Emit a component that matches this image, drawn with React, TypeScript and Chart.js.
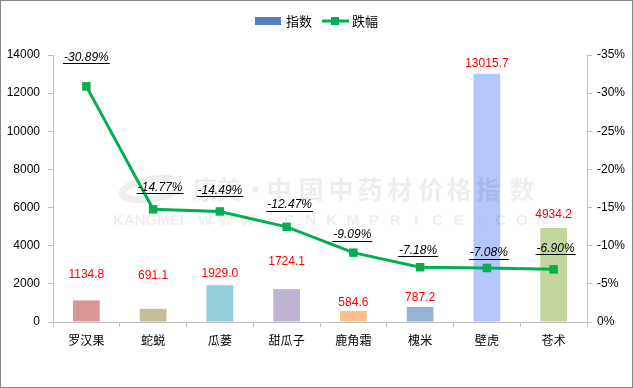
import { useEffect, useRef } from 'react';
import { Chart, registerables } from 'chart.js';

Chart.register(...registerables);

const categories = ['罗汉果', '蛇蜕', '瓜蒌', '甜瓜子', '鹿角霜', '槐米', '壁虎', '苍术'];
const indexValues = [1134.8, 691.1, 1929.0, 1724.1, 584.6, 787.2, 13015.7, 4934.2];
const declineMagnitude = [30.89, 14.77, 14.49, 12.47, 9.09, 7.18, 7.08, 6.9];
const barColors = ['#d99694', '#c4bd97', '#93cddd', '#c0b2d3', '#fac090', '#95b3d7', '#b4c6fb', '#c3d69b'];

// label nudges (pixels, relative to mark top / point)
const barLabelLift = [-26, -33, -12, -27, -8, -9, -10, -13];
const lineLabelLift = [-29, -22, -21, -22, -18, -17, -15, -21];
const lineLabelShift = [0, 7, 0, 3, -1, -2, 2, 2];

const LINE_COLOR = '#00b050';
const AXIS_COLOR = '#bfbfbf';
const NUM_FONT = '"Liberation Sans", Arial, sans-serif';
const CJK_FONT = '"Noto Sans CJK SC", sans-serif';

const WM_CN = '康美·中国中药材价格指数';
const WM_CN_X = [205, 229, 255, 279, 311, 341, 370, 400, 431, 459, 488, 522];
const WM_EN = 'WWW.CNKMPRICE.COM';

function drawWatermark(ctx: CanvasRenderingContext2D) {
  ctx.save();
  const c = 'rgba(0,0,0,0.065)';
  ctx.fillStyle = c;
  ctx.textBaseline = 'middle';
  ctx.textAlign = 'center';
  ctx.font = `bold 25px ${CJK_FONT}`;
  Array.from(WM_CN).forEach((ch, i) => ctx.fillText(ch, WM_CN_X[i], 189));
  ctx.font = `bold 15px ${NUM_FONT}`;
  ctx.textAlign = 'left';
  ctx.fillText('KANGMEI', 113, 221);
  ctx.textAlign = 'center';
  const chars = Array.from(WM_EN);
  const x0 = 205;
  const x1 = 543;
  chars.forEach((ch, i) => ctx.fillText(ch, x0 + ((x1 - x0) * i) / (chars.length - 1), 221));
  ctx.lineWidth = 7;
  ctx.strokeStyle = c;
  ctx.beginPath();
  ctx.ellipse(152, 189, 30, 10, -0.15, 0.5, Math.PI * 1.75);
  ctx.stroke();
  ctx.restore();
}

const decorPlugin = {
  id: 'decor',
  afterDatasetDraw(chart: any, args: any) {
    if (args.index === 0) drawWatermark(chart.ctx);
  },
  afterDatasetsDraw(chart: any) {
    const ctx = chart.ctx;
    ctx.save();
    // bar labels
    const barMeta = chart.getDatasetMeta(0);
    ctx.font = `12px ${NUM_FONT}`;
    ctx.fillStyle = '#ff0000';
    ctx.textAlign = 'center';
    ctx.textBaseline = 'middle';
    barMeta.data.forEach((el: any, i: number) => {
      ctx.fillText(indexValues[i].toFixed(1), el.x, el.y + barLabelLift[i]);
    });
    // line labels
    const lineMeta = chart.getDatasetMeta(1);
    ctx.font = `italic 12px ${NUM_FONT}`;
    ctx.fillStyle = '#000000';
    ctx.strokeStyle = '#000000';
    ctx.lineWidth = 1;
    lineMeta.data.forEach((el: any, i: number) => {
      const txt = '-' + declineMagnitude[i].toFixed(2) + '%';
      const cx = el.x + lineLabelShift[i];
      const cy = el.y + lineLabelLift[i];
      ctx.fillText(txt, cx, cy);
      const w = ctx.measureText(txt).width;
      const uy = Math.round(cy + 6) + 0.5;
      ctx.beginPath();
      ctx.moveTo(cx - w / 2 - 1, uy);
      ctx.lineTo(cx + w / 2 + 1, uy);
      ctx.stroke();
    });
    ctx.restore();
  },
  afterDraw(chart: any) {
    const ctx = chart.ctx;
    ctx.save();
    // legend
    ctx.fillStyle = '#4f81bd';
    ctx.fillRect(255, 17, 26, 8);
    ctx.font = `13px ${CJK_FONT}`;
    ctx.fillStyle = '#000';
    ctx.textBaseline = 'middle';
    ctx.textAlign = 'left';
    ctx.fillText('指数', 286, 21);
    ctx.strokeStyle = LINE_COLOR;
    ctx.lineWidth = 3;
    ctx.beginPath();
    ctx.moveTo(322, 21);
    ctx.lineTo(349, 21);
    ctx.stroke();
    ctx.fillStyle = LINE_COLOR;
    ctx.fillRect(331, 17, 8, 8);
    ctx.fillStyle = '#000';
    ctx.fillText('跌幅', 352, 21);
    // frame
    ctx.strokeStyle = '#868686';
    ctx.lineWidth = 1;
    ctx.strokeRect(0.5, 0.5, chart.width - 1, chart.height - 1);
    ctx.restore();
  },
};

export default function App() {
  const ref = useRef<HTMLCanvasElement>(null);
  useEffect(() => {
    document.body.style.margin = '0';
    const canvas = ref.current;
    if (!canvas) return;
    const chart = new Chart(canvas, {
      type: 'bar',
      data: {
        labels: categories,
        datasets: [
          {
            type: 'bar',
            label: '指数',
            data: indexValues,
            backgroundColor: barColors,
            borderWidth: 0,
            yAxisID: 'y',
            order: 1,
            categoryPercentage: 1,
            barPercentage: 0.4,
          },
          {
            type: 'line',
            label: '跌幅',
            data: declineMagnitude,
            borderColor: LINE_COLOR,
            backgroundColor: LINE_COLOR,
            borderWidth: 3,
            pointStyle: 'rect',
            pointRadius: 6,
            pointBorderWidth: 0,
            tension: 0,
            yAxisID: 'y1',
            order: 0,
          },
        ],
      } as any,
      options: {
        responsive: false,
        animation: false,
        layout: { padding: { top: 55, left: 0, right: 0, bottom: 0 } },
        plugins: {
          legend: { display: false },
          tooltip: { enabled: false },
        },
        scales: {
          x: {
            offset: true,
            grid: { offset: true, drawOnChartArea: false, drawTicks: true, tickLength: 5, color: AXIS_COLOR },
            border: { color: AXIS_COLOR, width: 1 },
            ticks: { font: { family: CJK_FONT, size: 12 }, color: '#000', padding: 6, maxRotation: 0 },
            afterFit: (s: any) => {
              s.height = 66;
            },
          },
          y: {
            position: 'left',
            min: 0,
            max: 14000,
            grid: { drawOnChartArea: false, drawTicks: true, tickLength: 5, color: AXIS_COLOR },
            border: { color: AXIS_COLOR, width: 1 },
            ticks: {
              stepSize: 2000,
              font: { family: NUM_FONT, size: 12 },
              color: '#000',
              padding: 8,
              callback: (v: any) => String(v),
            },
            afterFit: (s: any) => {
              s.width = 53;
            },
          },
          y1: {
            position: 'right',
            min: 0,
            max: 35,
            grid: { drawOnChartArea: false, drawTicks: true, tickLength: 5, color: AXIS_COLOR },
            border: { color: AXIS_COLOR, width: 1 },
            ticks: {
              stepSize: 5,
              font: { family: NUM_FONT, size: 12 },
              color: '#000',
              padding: 5,
              callback: (v: any) => (Number(v) === 0 ? '0%' : '-' + v + '%'),
            },
            afterFit: (s: any) => {
              s.width = 46;
            },
          },
        },
      } as any,
      plugins: [decorPlugin],
    });
    return () => chart.destroy();
  }, []);
  return (
    <div style={{ width: 633, height: 388 }}>
      <canvas ref={ref} width={633} height={388} style={{ display: 'block' }} />
    </div>
  );
}
